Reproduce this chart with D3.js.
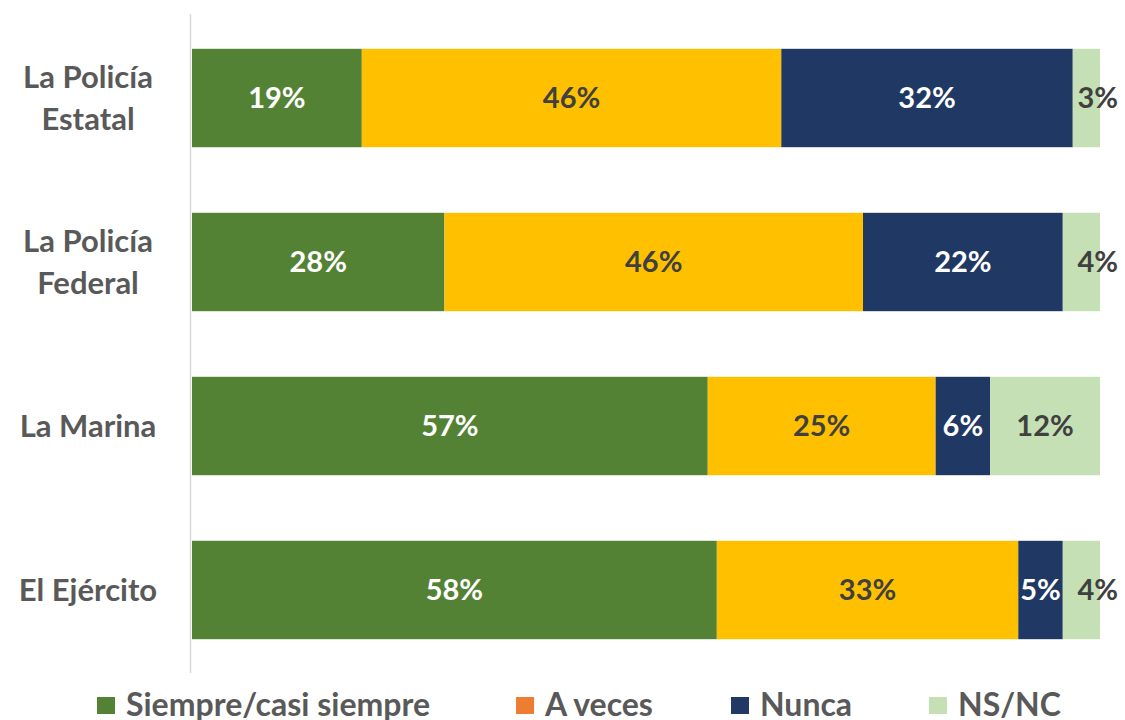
<!DOCTYPE html>
<html>
<head>
<meta charset="utf-8">
<script src="https://cdn.jsdelivr.net/npm/d3@7"></script>
<style>
  body { margin: 0; background: #fff; }
  svg { display: block; font-family: Lato, "Open Sans", sans-serif; font-weight: 700; }
</style>
</head>
<body>
<svg width="1125" height="720"></svg>
<script>
const categories = ['La Policía Estatal', 'La Policía Federal', 'La Marina', 'El Ejército'];
const categoryLines = [['La Policía', 'Estatal'], ['La Policía', 'Federal'], ['La Marina'], ['El Ejército']];
const seriesNames = ['Siempre/casi siempre', 'A veces', 'Nunca', 'NS/NC'];
const siempre = [18.7, 27.8, 56.8, 57.8];
const aVeces = [46.2, 46.1, 25.1, 33.2];
const nunca = [32.1, 22.0, 6.0, 4.9];
const nsnc = [3.0, 4.1, 12.1, 4.1];
const labels = [
    ['19%', '46%', '32%', '3%'],
    ['28%', '46%', '22%', '4%'],
    ['57%', '25%', '6%', '12%'],
    ['58%', '33%', '5%', '4%']
];

const barColors = ['#548235', '#FFC000', '#203864', '#C5E0B4'];
const legendColors = ['#548235', '#ED7D31', '#203864', '#C5E0B4'];
const labelColors = ['#ffffff', '#404040', '#ffffff', '#404040'];

const svg = d3.select('svg');

const rows = categories.map((c, i) => ({
    category: c,
    values: [siempre[i], aVeces[i], nunca[i], nsnc[i]],
    labels: labels[i]
}));

const xScale = d3.scaleLinear().domain([0, 100]).range([192, 1100]);
const yScale = d3.scaleBand().domain(categories).range([16, 672])
    .paddingInner(0.4).paddingOuter(0.2);

// axis line
svg.append('line')
    .attr('x1', 190.5).attr('x2', 190.5)
    .attr('y1', 14).attr('y2', 673)
    .attr('stroke', '#d9d9d9').attr('stroke-width', 1.5);

// bars
rows.forEach(row => {
    let acc = 0;
    const g = svg.append('g');
    row.values.forEach((v, j) => {
        const x0 = xScale(acc);
        const x1 = xScale(acc + v);
        acc += v;
        g.append('rect')
            .attr('x', x0)
            .attr('y', yScale(row.category))
            .attr('width', x1 - x0)
            .attr('height', yScale.bandwidth())
            .attr('fill', barColors[j]);
        const t = g.append('text')
            .attr('x', (x0 + x1) / 2)
            .attr('y', yScale(row.category) + yScale.bandwidth() / 2)
            .attr('dy', '0.36em')
            .attr('text-anchor', 'middle')
            .attr('fill', labelColors[j])
            .style('font-size', '29px')
            .text(row.labels[j]);
        // labels too wide for the last slice are pushed to the chart edge
        const w = t.node().getComputedTextLength();
        if (w > x1 - x0 && j === row.values.length - 1) {
            t.attr('text-anchor', 'end').attr('x', 1118);
        }
    });
});

// category labels
categories.forEach((c, i) => {
    const lines = categoryLines[i];
    const cy = yScale(c) + yScale.bandwidth() / 2;
    const t = svg.append('text')
        .attr('text-anchor', 'middle')
        .attr('fill', '#595959')
        .style('font-size', '31px');
    lines.forEach((ln, k) => {
        t.append('tspan')
            .attr('x', 88)
            .attr('y', cy + (k - (lines.length - 1) / 2) * 42)
            .attr('dy', '0.36em')
            .text(ln);
    });
});

// legend
const legendX = [97, 516, 731, 929];
seriesNames.forEach((name, i) => {
    svg.append('rect')
        .attr('x', legendX[i]).attr('y', 697)
        .attr('width', 18).attr('height', 17)
        .attr('fill', legendColors[i]);
    svg.append('text')
        .attr('x', legendX[i] + 29).attr('y', 704)
        .attr('dy', '0.36em')
        .attr('fill', '#595959')
        .style('font-size', '32px')
        .text(name);
});
</script>
</body>
</html>
